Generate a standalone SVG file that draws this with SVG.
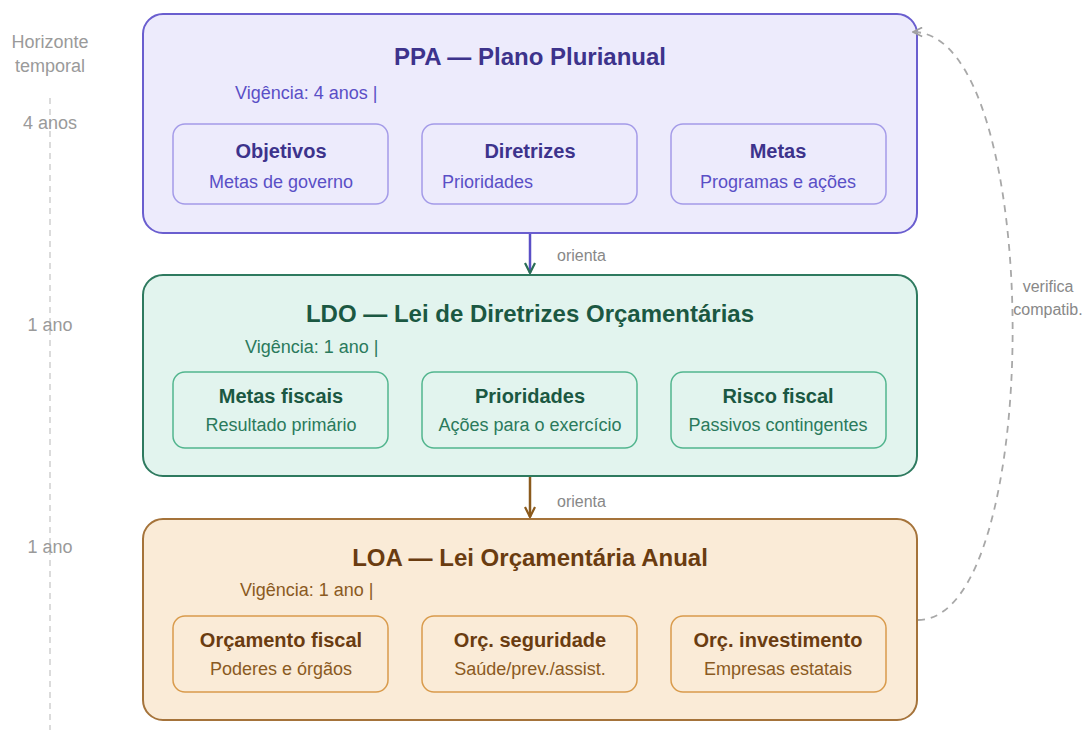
<svg xmlns="http://www.w3.org/2000/svg" width="1085" height="734" viewBox="0 0 1085 734">
<defs>
<style>
text{font-family:"Liberation Sans",Arial,sans-serif}
.ax{fill:#9a9a9a;font-size:18px}
.t{font-size:24px;font-weight:bold;text-anchor:middle}
.v{font-size:18px}
.st{font-size:20px;font-weight:bold;text-anchor:middle}
.ss{font-size:18px;text-anchor:middle}
.lbl{fill:#888;font-size:16px}
.ppa .box{fill:#edebfc;stroke:#6a5ecf;stroke-width:2}
.ppa .sub{fill:#edebfc;stroke:#a49be8;stroke-width:1.5}
.ppa .t,.ppa .st{fill:#3d338c}
.ppa .v,.ppa .ss{fill:#5a4fc6}
.ldo .box{fill:#e2f4ee;stroke:#2e7a5f;stroke-width:2}
.ldo .sub{fill:#e2f4ee;stroke:#52b58e;stroke-width:1.5}
.ldo .t,.ldo .st{fill:#1b5842}
.ldo .v,.ldo .ss{fill:#2a7a5c}
.loa .box{fill:#faebd7;stroke:#a5733a;stroke-width:2}
.loa .sub{fill:#faebd7;stroke:#d99b4c;stroke-width:1.5}
.loa .t,.loa .st{fill:#6a3c10}
.loa .v,.loa .ss{fill:#8a5a22}
</style>
<marker id="mg" viewBox="0 0 12 12" refX="11" refY="6" markerWidth="12" markerHeight="12" markerUnits="userSpaceOnUse" orient="auto">
<path d="M1,1 L11,6 L1,11" fill="none" stroke="#2a6e55" stroke-width="2.2"/>
</marker>
<marker id="mb" viewBox="0 0 12 12" refX="11" refY="6" markerWidth="12" markerHeight="12" markerUnits="userSpaceOnUse" orient="auto">
<path d="M1,1 L11,6 L1,11" fill="none" stroke="#8b5a1c" stroke-width="2.2"/>
</marker>
<marker id="mgray" viewBox="0 0 12 12" refX="11" refY="6" markerWidth="11" markerHeight="11" markerUnits="userSpaceOnUse" orient="auto">
<path d="M1,1 L11,6 L1,11" fill="none" stroke="#a0a0a0" stroke-width="1.8"/>
</marker>
</defs>
<rect width="1085" height="734" fill="#ffffff"/>

<g id="axis">
<line x1="50" y1="98" x2="50" y2="730" stroke="#cfcfcf" stroke-width="1.5" stroke-dasharray="6 5"/>
<text class="ax" x="50" y="48" text-anchor="middle">Horizonte</text>
<text class="ax" x="50" y="72" text-anchor="middle">temporal</text>
<text class="ax" x="50" y="129" text-anchor="middle">4 anos</text>
<text class="ax" x="50" y="331" text-anchor="middle">1 ano</text>
<text class="ax" x="50" y="553" text-anchor="middle">1 ano</text>
</g>

<g id="ppa" class="ppa">
<rect class="box" x="143" y="14" width="774" height="219" rx="20"/>
<text class="t" x="530" y="65">PPA — Plano Plurianual</text>
<text class="v" x="235" y="99">Vigência: 4 anos |</text>
<g id="ppa-objetivos"><rect class="sub" x="173" y="124" width="215" height="80" rx="12"/>
<text class="st" x="281" y="158">Objetivos</text><text class="ss" x="281" y="188">Metas de governo</text></g>
<g id="ppa-diretrizes"><rect class="sub" x="422" y="124" width="215" height="80" rx="12"/>
<text class="st" x="530" y="158">Diretrizes</text><text class="ss" x="442" y="188" style="text-anchor:start">Prioridades</text></g>
<g id="ppa-metas"><rect class="sub" x="671" y="124" width="215" height="80" rx="12"/>
<text class="st" x="778" y="158">Metas</text><text class="ss" x="778" y="188">Programas e ações</text></g>
</g>

<g id="ldo" class="ldo">
<rect class="box" x="143" y="275" width="774" height="201" rx="20"/>
<text class="t" x="530" y="322">LDO — Lei de Diretrizes Orçamentárias</text>
<text class="v" x="245" y="353">Vigência: 1 ano |</text>
<g id="ldo-metas"><rect class="sub" x="173" y="372" width="215" height="76" rx="12"/>
<text class="st" x="281" y="403">Metas fiscais</text><text class="ss" x="281" y="431">Resultado primário</text></g>
<g id="ldo-prioridades"><rect class="sub" x="422" y="372" width="215" height="76" rx="12"/>
<text class="st" x="530" y="403">Prioridades</text><text class="ss" x="530" y="431">Ações para o exercício</text></g>
<g id="ldo-risco"><rect class="sub" x="671" y="372" width="215" height="76" rx="12"/>
<text class="st" x="778" y="403">Risco fiscal</text><text class="ss" x="778" y="431">Passivos contingentes</text></g>
</g>

<g id="loa" class="loa">
<rect class="box" x="143" y="519" width="774" height="201" rx="20"/>
<text class="t" x="530" y="566">LOA — Lei Orçamentária Anual</text>
<text class="v" x="240" y="596">Vigência: 1 ano |</text>
<g id="loa-fiscal"><rect class="sub" x="173" y="616" width="215" height="76" rx="12"/>
<text class="st" x="281" y="647">Orçamento fiscal</text><text class="ss" x="281" y="675">Poderes e órgãos</text></g>
<g id="loa-seguridade"><rect class="sub" x="422" y="616" width="215" height="76" rx="12"/>
<text class="st" x="530" y="647">Orç. seguridade</text><text class="ss" x="530" y="675">Saúde/prev./assist.</text></g>
<g id="loa-investimento"><rect class="sub" x="671" y="616" width="215" height="76" rx="12"/>
<text class="st" x="778" y="647">Orç. investimento</text><text class="ss" x="778" y="675">Empresas estatais</text></g>
</g>

<g id="connectors">
<line x1="530" y1="234" x2="530" y2="273" stroke="#5a4fc6" stroke-width="2.5" marker-end="url(#mg)"/>
<text class="lbl" x="557" y="261">orienta</text>
<line x1="530" y1="477" x2="530" y2="517" stroke="#8b5a1c" stroke-width="2.5" marker-end="url(#mb)"/>
<text class="lbl" x="557" y="507">orienta</text>
<path d="M918,620 C1045,620 1045,32 913,32" fill="none" stroke="#a8a8a8" stroke-width="1.8" stroke-dasharray="7 6" marker-end="url(#mgray)"/>
<text class="lbl" x="1048" y="292" text-anchor="middle">verifica</text>
<text class="lbl" x="1048" y="315" text-anchor="middle">compatib.</text>
</g>
</svg>
